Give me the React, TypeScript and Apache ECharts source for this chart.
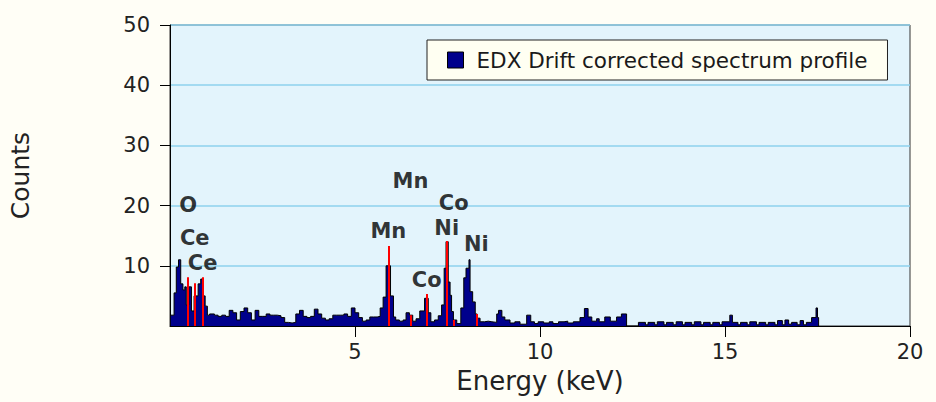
import React, { useEffect, useRef } from "react";
import * as echarts from "echarts";

// Spectrum bins: each energy (keV) is the start of a bin, COUNTS holds its height.
const ENERGY = [
  0.02, 0.11, 0.17, 0.23, 0.29, 0.35, 0.40, 0.44, 0.51, 0.58, 0.65, 0.76, 0.83, 0.89, 0.95, 1.01, 1.07,
  1.2, 1.3, 1.4, 1.5, 1.6, 1.7, 1.8, 1.9, 2.0, 2.1, 2.2, 2.3, 2.4, 2.5, 2.6, 2.7, 2.8, 2.9,
  3.0, 3.1, 3.2, 3.3, 3.4, 3.5, 3.6, 3.7, 3.8, 3.9, 4.0, 4.1, 4.2, 4.3, 4.4, 4.5, 4.6, 4.7, 4.8, 4.9,
  5.0, 5.1, 5.2, 5.3, 5.4, 5.5, 5.6, 5.68, 5.76, 5.84, 5.96, 6.04, 6.1, 6.2, 6.3, 6.38, 6.47, 6.56,
  6.65, 6.75, 6.88, 6.98, 7.05, 7.15, 7.25, 7.34, 7.41, 7.46, 7.52, 7.57, 7.61, 7.66, 7.75, 7.86,
  7.94, 8.0, 8.08, 8.11, 8.18, 8.25, 8.3, 8.38, 8.5, 8.6, 8.7, 8.83, 8.88, 8.97, 9.05, 9.19, 9.32,
  9.46, 9.64, 9.75, 9.85, 9.95, 10.1, 10.25, 10.35, 10.5, 10.65, 10.75, 10.9, 11.08, 11.2, 11.3,
  11.4, 11.53, 11.6, 11.75, 11.9, 12.07, 12.2, 12.34, 12.66, 12.85, 12.92, 13.1, 13.17, 13.35,
  13.42, 13.6, 13.68, 13.85, 13.92, 14.1, 14.17, 14.35, 14.42, 14.6, 14.67, 14.85, 14.92, 15.13,
  15.2, 15.35, 15.42, 15.6, 15.67, 15.85, 15.92, 16.1, 16.17, 16.35, 16.42, 16.55, 16.62, 16.72,
  16.8, 16.95, 17.03, 17.12, 17.2, 17.34, 17.46, 17.5, 17.53,
];

const COUNTS = [
  1.8, 5.5, 9.8, 11.0, 7.0, 6.0, 6.5, 3.5, 6.5, 2.5, 5.0, 7.0, 7.8, 5.0, 3.3, 1.8, 2.0,
  1.8, 1.6, 1.8, 1.6, 2.6, 2.2, 1.0, 2.4, 3.0, 2.2, 1.0, 2.6, 1.6, 1.6, 2.0, 1.8, 1.8, 1.7,
  1.4, 0.6, 0.5, 0.6, 2.0, 2.6, 1.6, 1.4, 1.6, 2.8, 2.0, 1.3, 1.0, 1.2, 1.8, 1.8, 1.8, 2.0, 1.6, 3.0,
  2.2, 1.4, 0.8, 1.0, 1.5, 1.5, 1.6, 3.0, 4.8, 10.0, 5.0, 1.5, 1.0, 0.8, 1.0, 2.2, 1.8, 0.8,
  1.2, 2.5, 4.6, 2.2, 0.7, 1.0, 1.7, 3.5, 9.6, 14.0, 7.3, 5.1, 2.4, 1.0, 0.4, 3.0,
  8.0, 9.6, 11.0, 5.7, 4.0, 2.0, 1.3, 0.7, 0.8, 0.7, 0.6, 2.0, 2.6, 1.5, 1.0, 0.5, 0.7,
  0.3, 1.8, 0.7, 0.4, 0.7, 0.5, 0.7, 0.4, 0.7, 0.8, 0.5, 0.7, 1.4, 2.9, 1.5,
  0.8, 1.2, 0.7, 1.5, 0.8, 1.5, 2.0, 0, 0.6, 0.2, 0.6, 0.2, 0.7, 0.2,
  0.6, 0.2, 0.7, 0.2, 0.6, 0.2, 0.7, 0.2, 0.6, 0.2, 0.6, 0.2, 0.7, 1.8,
  0.6, 0.2, 0.6, 0.2, 0.7, 0.2, 0.6, 0.2, 0.6, 0.2, 0.9, 0.2, 1.0, 0.3,
  0.6, 0.2, 0.9, 0.2, 0.6, 1.4, 3.0, 1.4, 0,
];

// Element marker lines (keV, counts) and the label placed over each one.
const MARKER_ELEMENTS = ["O", "Ce", "Ce", "Mn", "Mn", "Co", "Ni", "Co", "Ni"];
const MARKER_ENERGY = [0.49, 0.67, 0.88, 5.9, 6.5, 6.94, 7.48, 7.67, 8.28];
const MARKER_HEIGHT = [8.1, 7.1, 8.1, 13.3, 1.8, 5.3, 14.1, 1.0, 2.0];
const LABEL_LEVEL = [20.1, 14.6, 10.4, 15.7, 24.1, 7.6, 16.3, 20.5, 13.7];

const X_TICKS = [5, 10, 15, 20];
const Y_TICKS = [10, 20, 30, 40, 50];

const SERIES_NAME = "EDX Drift corrected spectrum profile";
const FONT = "DejaVu Sans";

export default function App() {
  const ref = useRef<HTMLDivElement>(null);

  useEffect(() => {
    if (!ref.current) return;
    const chart = echarts.init(ref.current, undefined, { renderer: "svg" });

    const spectrum = ENERGY.map((e, i) => [e, COUNTS[i]]);
    const markerLines = MARKER_ENERGY.map((e, i) => [
      { coord: [e, 0] },
      { coord: [e, MARKER_HEIGHT[i]] },
    ]);
    const labelPoints = MARKER_ENERGY.map((e, i) => ({
      value: [e, LABEL_LEVEL[i]],
      name: MARKER_ELEMENTS[i],
    }));

    chart.setOption({
      animation: false,
      backgroundColor: "#FFFEF6",
      textStyle: { fontFamily: FONT },
      grid: {
        left: 170,
        right: 26,
        top: 25,
        bottom: 76,
        show: true,
        backgroundColor: "#E3F4FC",
        borderColor: "#333",
        borderWidth: 1,
      },
      legend: {
        show: true,
        left: 427,
        top: 40,
        padding: [9, 20, 9, 20],
        itemWidth: 16,
        itemHeight: 16,
        backgroundColor: "#FFFFF2",
        borderColor: "#222",
        borderWidth: 1,
        textStyle: { fontFamily: FONT, fontSize: 21.5, color: "#1a1a1a", padding: [0, 0, 0, 8] },
        data: [
          {
            name: SERIES_NAME,
            icon: "rect",
            itemStyle: { color: "#00008C", borderColor: "#000", borderWidth: 1 },
          },
        ],
      },
      xAxis: {
        type: "value",
        min: 0,
        max: 20,
        interval: 5,
        name: "Energy (keV)",
        nameLocation: "middle",
        nameGap: 42,
        nameTextStyle: { fontFamily: FONT, fontSize: 26, color: "#222" },
        axisLine: { show: true, onZero: false, lineStyle: { color: "#000", width: 1 } },
        axisTick: {
          show: true,
          inside: false,
          length: 11,
          customValues: X_TICKS,
          lineStyle: { color: "#000", width: 1 },
        },
        axisLabel: {
          show: true,
          margin: 15,
          customValues: X_TICKS,
          fontFamily: FONT,
          fontSize: 21,
          color: "#222",
        },
        splitLine: { show: false },
      },
      yAxis: {
        type: "value",
        min: 0,
        max: 50,
        interval: 10,
        name: "Counts",
        nameLocation: "middle",
        nameGap: 137,
        nameTextStyle: { fontFamily: FONT, fontSize: 25, color: "#222" },
        axisLine: { show: true, onZero: false, lineStyle: { color: "#000", width: 1 } },
        axisTick: {
          show: true,
          inside: false,
          length: 10,
          customValues: Y_TICKS,
          lineStyle: { color: "#000", width: 1 },
        },
        axisLabel: {
          show: true,
          margin: 20,
          customValues: Y_TICKS,
          fontFamily: FONT,
          fontSize: 21,
          color: "#222",
        },
        splitLine: { show: true, lineStyle: { color: "#8ED2EE", width: 1.5 } },
      },
      series: [
        {
          name: SERIES_NAME,
          type: "line",
          step: "end",
          data: spectrum,
          symbol: "none",
          lineStyle: { color: "#000", width: 1 },
          itemStyle: { color: "#00008C" },
          areaStyle: { color: "#00008C", opacity: 1 },
          z: 2,
          markLine: {
            silent: true,
            symbol: "none",
            animation: false,
            label: { show: false },
            lineStyle: { color: "#FF0000", width: 2, type: "solid" },
            data: markerLines,
          },
        },
        {
          name: "element labels",
          type: "scatter",
          data: labelPoints,
          symbolSize: 0,
          silent: true,
          z: 5,
          label: {
            show: true,
            position: "inside",
            formatter: (p: any) => p.name,
            fontFamily: FONT,
            fontWeight: "bold",
            fontSize: 21,
            color: "#000",
          },
        },
      ],
    });

    return () => chart.dispose();
  }, []);

  return (
    <div
      ref={ref}
      style={{ position: "absolute", left: 0, top: 0, width: 936, height: 402 }}
    />
  );
}
